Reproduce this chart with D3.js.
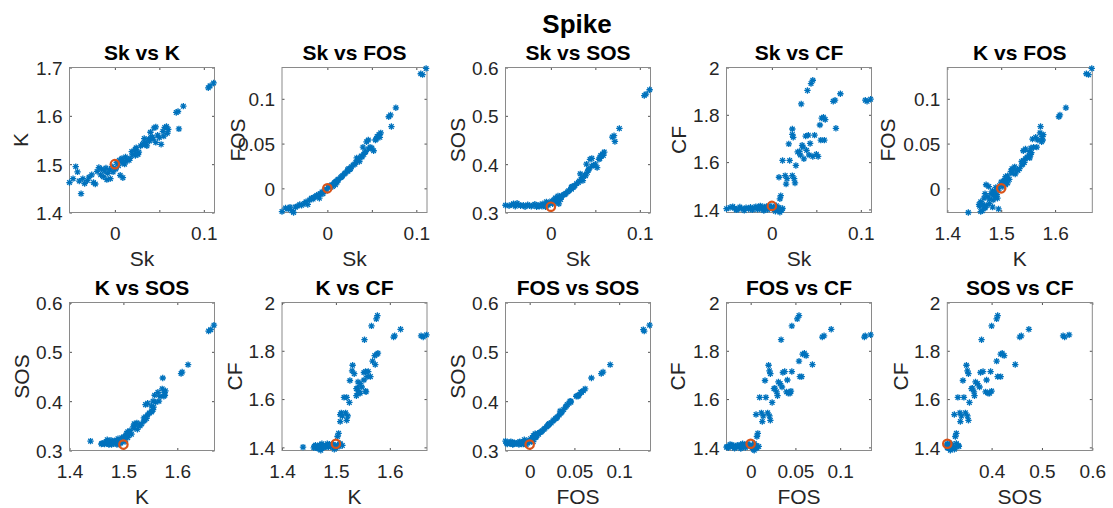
<!DOCTYPE html>
<html>
<head>
<meta charset="utf-8">
<script src="https://cdn.jsdelivr.net/npm/d3@7"></script>
<style>
  body { margin: 0; background: #fff; }
  text { font-family: "Liberation Sans", Arial, Helvetica, sans-serif; }
</style>
</head>
<body>
<div id="figure"></div>
<script>
const width = 1113
const height = 508

/* Samples: skewness, kurtosis, first / second order stat, crest factor */
const sk = [-0.051, -0.047, -0.044, -0.042, -0.040, -0.038, -0.036, -0.034, -0.031, -0.029, -0.026, -0.024, -0.022, -0.020, -0.018,
    -0.016, -0.015, -0.013, -0.012, -0.010, -0.009, -0.008, -0.006, -0.005, -0.003, -0.002, 0.001, 0.002, 0.004, 0.005, 0.006, 0.008,
    0.009, 0.011, 0.012,
    0.009, 0.010, 0.008, 0.012, 0.015, 0.016, 0.017, 0.019, 0.020, 0.023, 0.023, 0.024, 0.023, 0.025, 0.026, 0.027, 0.029, 0.031,
    0.032, 0.033, 0.034, 0.035, 0.036, 0.038, 0.039, 0.040, 0.041, 0.042, 0.043, 0.044, 0.046, 0.046, 0.048, 0.050, 0.052, 0.054,
    0.055, 0.056, 0.058, 0.059, 0.060, 0.069, 0.071, 0.072, 0.077, 0.105, 0.107, 0.111]
const kurt = [1.462, 1.470, 1.495, 1.484, 1.465, 1.439, 1.470, 1.460, 1.466, 1.473, 1.478, 1.462, 1.459, 1.485, 1.493,
    1.478, 1.490, 1.474, 1.486, 1.492, 1.468, 1.481, 1.488, 1.470, 1.495, 1.484, 1.490, 1.503, 1.497, 1.508, 1.477, 1.512,
    1.472, 1.500, 1.506,
    1.503, 1.505, 1.508, 1.515, 1.510, 1.508, 1.512, 1.526, 1.520, 1.531, 1.530, 1.534, 1.518, 1.522, 1.520, 1.525, 1.538, 1.540,
    1.543, 1.553, 1.541, 1.545, 1.538, 1.552, 1.548, 1.566, 1.555, 1.556, 1.552, 1.575, 1.577, 1.545, 1.560, 1.555, 1.541, 1.568,
    1.558, 1.576, 1.578, 1.564, 1.572, 1.607, 1.609, 1.573, 1.620, 1.658, 1.662, 1.668]
const fos = [-0.026, -0.022, -0.023, -0.021, -0.025, -0.027, -0.021, -0.020, -0.018, -0.019, -0.017, -0.015, -0.018, -0.013, -0.011,
    -0.012, -0.010, -0.009, -0.008, -0.007, -0.011, -0.006, -0.004, -0.006, -0.002, -0.003, 0.001, 0.002, 0.003, 0.004, 0.002, 0.006,
    0.004, 0.007, 0.009,
    0.007, 0.008, 0.006, 0.010, 0.012, 0.013, 0.014, 0.016, 0.017, 0.020, 0.021, 0.022, 0.019, 0.021, 0.022, 0.024, 0.026, 0.027,
    0.029, 0.034, 0.031, 0.033, 0.030, 0.036, 0.035, 0.046, 0.038, 0.040, 0.041, 0.052, 0.054, 0.044, 0.046, 0.045, 0.042, 0.054,
    0.055, 0.058, 0.060, 0.057, 0.062, 0.080, 0.082, 0.069, 0.090, 0.128, 0.127, 0.134]
const sos = [0.315, 0.314, 0.316, 0.318, 0.313, 0.319, 0.316, 0.314, 0.315, 0.312, 0.316, 0.314, 0.313, 0.315, 0.317,
    0.312, 0.314, 0.313, 0.316, 0.313, 0.318, 0.314, 0.312, 0.322, 0.315, 0.320, 0.324, 0.318, 0.326, 0.330, 0.321, 0.334,
    0.318, 0.327, 0.335,
    0.328, 0.330, 0.326, 0.333, 0.337, 0.338, 0.340, 0.343, 0.345, 0.350, 0.352, 0.354, 0.348, 0.352, 0.354, 0.356, 0.360, 0.362,
    0.365, 0.380, 0.368, 0.372, 0.366, 0.378, 0.376, 0.400, 0.383, 0.388, 0.390, 0.410, 0.412, 0.396, 0.398, 0.400, 0.393, 0.410,
    0.412, 0.418, 0.421, 0.418, 0.425, 0.456, 0.459, 0.447, 0.474, 0.542, 0.545, 0.554]
const cf = [1.403, 1.408, 1.412, 1.405, 1.398, 1.401, 1.410, 1.404, 1.396, 1.407, 1.402, 1.409, 1.398, 1.405, 1.412,
    1.400, 1.408, 1.415, 1.402, 1.410, 1.395, 1.404, 1.413, 1.399, 1.407, 1.415, 1.403, 1.410, 1.392, 1.416, 1.401, 1.408,
    1.388, 1.397, 1.404,
    1.445, 1.458, 1.536, 1.607, 1.543, 1.507, 1.530, 1.677, 1.607, 1.740, 1.717, 1.705, 1.543, 1.530, 1.512, 1.586, 1.643, 1.645,
    1.630, 1.846, 1.671, 1.664, 1.614, 1.710, 1.650, 1.903, 1.714, 1.630, 1.679, 1.932, 1.946, 1.624, 1.714, 1.633, 1.624, 1.757,
    1.693, 1.786, 1.790, 1.693, 1.780, 1.857, 1.862, 1.743, 1.889, 1.862, 1.857, 1.866]

/* Reference sample (red circle) */
const reference = { Sk: 0, K: 1.5, FOS: 0, SOS: 0.312, CF: 1.415 }

const series = { Sk: sk, K: kurt, FOS: fos, SOS: sos, CF: cf }

/* Subplot pairs, in row order */
const pairs = [['Sk', 'K'], ['Sk', 'FOS'], ['Sk', 'SOS'], ['Sk', 'CF'], ['K', 'FOS'],
    ['K', 'SOS'], ['K', 'CF'], ['FOS', 'SOS'], ['FOS', 'CF'], ['SOS', 'CF']]

/* Axis limits and ticks */
const xAxes = {
    Sk: { domain: [-0.051, 0.112], ticks: [0, 0.05, 0.1], labels: [0, 0.1] },
    K: { domain: [1.4, 1.669], ticks: [1.4, 1.5, 1.6] },
    FOS: { domain: [-0.027, 0.135], ticks: [0, 0.05, 0.1] },
    SOS: { domain: [0.312, 0.6], ticks: [0.4, 0.5, 0.6] },
}
const yAxes = {
    K: { domain: [1.4, 1.7], ticks: [1.4, 1.5, 1.6, 1.7] },
    FOS: { domain: [-0.027, 0.135], ticks: [0, 0.05, 0.1] },
    SOS: { domain: [0.3, 0.6], ticks: [0.3, 0.4, 0.5, 0.6] },
    CF: { domain: [1.387, 2], ticks: [1.4, 1.6, 1.8, 2] },
}

/* Layout (pixels) */
const colLeft = [69.5, 282, 505.5, 726.5, 947.3]
const rowTop = [67.5, 302.5]
const boxW = 145
const boxH = [145, 148]
const ylabelGap = [42, 37, 41, 41, 52, 41, 40, 41, 41.5, 39.5]

const blue = '#0072BD'
const red = '#D95319'
const ink = '#262626'
const fmt = v => String(+v.toFixed(4))

const svg = d3.select('#figure').append('svg').attr('width', width).attr('height', height)
svg.append('rect').attr('width', width).attr('height', height).attr('fill', '#fff')

svg.append('text')
    .attr('x', 577).attr('y', 33)
    .attr('text-anchor', 'middle')
    .attr('font-size', 26).attr('font-weight', 'bold').attr('fill', '#000')
    .text('Spike')

const star = 'M-3.2,0H3.2M0,-3.2V3.2M-2.3,-2.3L2.3,2.3M-2.3,2.3L2.3,-2.3'

pairs.forEach(([xv, yv], i) => {
    const row = Math.floor(i / 5)
    const col = i % 5
    const h = boxH[row]
    const xa = xAxes[xv]
    const ya = yAxes[yv]
    const x = d3.scaleLinear().domain(xa.domain).range([0, boxW])
    const y = d3.scaleLinear().domain(ya.domain).range([h, 0])

    const g = svg.append('g').attr('transform', `translate(${colLeft[col]},${rowTop[row]})`)

    /* ticks inside the box, on all four sides */
    const xLabels = xa.labels || xa.ticks
    const bottom = g.append('g').attr('transform', `translate(0,${h})`)
        .call(d3.axisBottom(x).tickValues(xa.ticks).tickSizeInner(-2.5).tickSizeOuter(0)
            .tickFormat(d => xLabels.includes(d) ? fmt(d) : ''))
    g.append('g').call(d3.axisTop(x).tickValues(xa.ticks).tickSizeInner(-2.5).tickSizeOuter(0).tickFormat(''))
    const left = g.append('g')
        .call(d3.axisLeft(y).tickValues(ya.ticks).tickSizeInner(-2.5).tickSizeOuter(0).tickFormat(fmt))
    g.append('g').attr('transform', `translate(${boxW},0)`)
        .call(d3.axisRight(y).tickValues(ya.ticks).tickSizeInner(-2.5).tickSizeOuter(0).tickFormat(''))

    g.selectAll('.domain').remove()
    g.selectAll('.tick line').attr('stroke', ink).attr('stroke-width', 0.8)
    bottom.selectAll('text').attr('y', 27).attr('dy', null)
        .attr('font-size', 19).attr('fill', ink).attr('font-family', null)
    left.selectAll('text').attr('x', -7).attr('dy', '0.36em')
        .attr('font-size', 19).attr('fill', ink).attr('font-family', null)

    g.append('rect')
        .attr('width', boxW).attr('height', h)
        .attr('fill', 'none').attr('stroke', '#8a8a8a').attr('stroke-width', 1)

    /* samples */
    const xs = series[xv]
    const ys = series[yv]
    g.append('g').selectAll('path')
        .data(d3.range(xs.length))
        .join('path')
        .attr('d', star)
        .attr('transform', j => `translate(${x(xs[j])},${y(ys[j])})`)
        .attr('stroke', blue).attr('stroke-width', 1.3).attr('fill', 'none')

    g.append('circle')
        .attr('cx', x(reference[xv])).attr('cy', y(reference[yv]))
        .attr('r', 4.2)
        .attr('fill', 'none').attr('stroke', red).attr('stroke-width', 2.2)

    /* labels */
    g.append('text')
        .attr('x', boxW / 2).attr('y', -8)
        .attr('text-anchor', 'middle')
        .attr('font-size', 21).attr('font-weight', 'bold').attr('fill', '#000')
        .text(`${xv} vs ${yv}`)
    g.append('text')
        .attr('x', boxW / 2).attr('y', h + 53)
        .attr('text-anchor', 'middle')
        .attr('font-size', 21).attr('fill', ink)
        .text(xv)
    g.append('text')
        .attr('transform', `translate(${-ylabelGap[i]},${h / 2}) rotate(-90)`)
        .attr('text-anchor', 'middle')
        .attr('font-size', 21).attr('fill', ink)
        .text(yv)
})
</script>
</body>
</html>
